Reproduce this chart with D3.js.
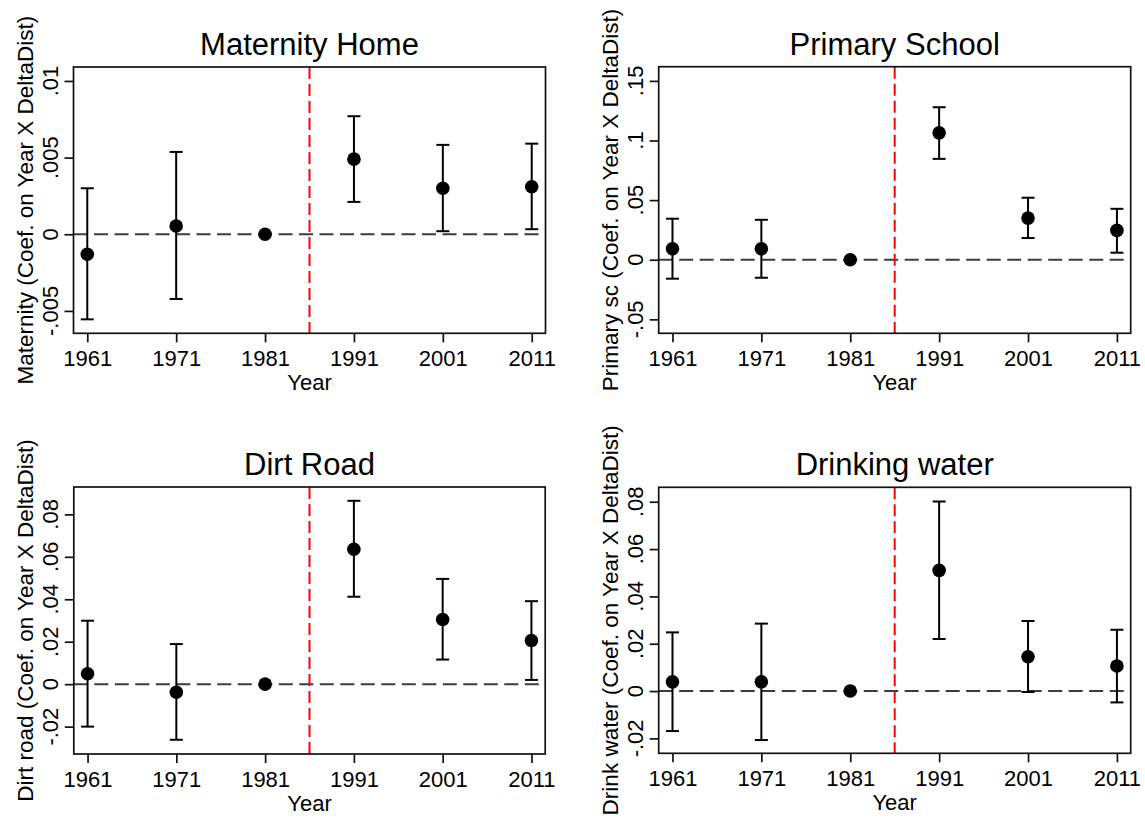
<!DOCTYPE html>
<html>
<head>
<meta charset="utf-8">
<script src="https://cdn.jsdelivr.net/npm/d3@7"></script>
<style>
  html, body { margin: 0; padding: 0; background: #fff; }
  svg { display: block; }
  text { font-family: "Liberation Sans", Arial, Helvetica, sans-serif; fill: #000; }
</style>
</head>
<body>
<svg id="chart" width="1145" height="818"></svg>
<script>
// Census years (x categories) and the reform year marked by the red line
const years = [1961, 1971, 1981, 1991, 2001, 2011];
const reformYear = 1986;

// Maternity home: coefficient and 95% CI bounds (1981 is the omitted base year)
const maternityCoef = [-0.0013, 0.00054, 0, 0.0049, 0.0030, 0.0031];
const maternityLo   = [-0.00555, -0.00422, null, 0.00211, 0.0002, 0.00033];
const maternityHi   = [0.0030, 0.00537, null, 0.0077, 0.00583, 0.00591];
const maternityTicks = [-0.005, 0, 0.005, 0.01];
const maternityTickLabels = ["-.005", "0", ".005", ".01"];

// Primary school
const primaryCoef = [0.0092, 0.0092, 0, 0.1064, 0.0349, 0.0246];
const primaryLo   = [-0.0159, -0.0151, null, 0.0846, 0.0182, 0.0059];
const primaryHi   = [0.0344, 0.0335, null, 0.1279, 0.0520, 0.0427];
const primaryTicks = [-0.05, 0, 0.05, 0.1, 0.15];
const primaryTickLabels = ["-.05", "0", ".05", ".1", ".15"];

// Dirt road
const dirtCoef = [0.0049, -0.0038, 0, 0.0636, 0.0305, 0.0206];
const dirtLo   = [-0.0200, -0.0262, null, 0.0412, 0.0116, 0.0020];
const dirtHi   = [0.0299, 0.0189, null, 0.0864, 0.0496, 0.0391];
const dirtTicks = [-0.02, 0, 0.02, 0.04, 0.06, 0.08];
const dirtTickLabels = ["-.02", "0", ".02", ".04", ".06", ".08"];

// Drinking water
const waterCoef = [0.0039, 0.0039, 0, 0.0510, 0.0145, 0.0106];
const waterLo   = [-0.0169, -0.0207, null, 0.0220, -0.0004, -0.0048];
const waterHi   = [0.0248, 0.0285, null, 0.0801, 0.0296, 0.0259];
const waterTicks = [-0.02, 0, 0.02, 0.04, 0.06, 0.08];
const waterTickLabels = ["-.02", "0", ".02", ".04", ".06", ".08"];

const panels = [
  { title: "Maternity Home", ytitle: "Maternity (Coef. on Year X DeltaDist)",
    coef: maternityCoef, lo: maternityLo, hi: maternityHi,
    ticks: maternityTicks, tickLabels: maternityTickLabels, yDomain: [-0.00646, 0.01091],
    box: { left: 73.5, right: 545.5, top: 67, bottom: 333.3 } },
  { title: "Primary School", ytitle: "Primary sc (Coef. on Year X DeltaDist)",
    coef: primaryCoef, lo: primaryLo, hi: primaryHi,
    ticks: primaryTicks, tickLabels: primaryTickLabels, yDomain: [-0.0617, 0.1619],
    box: { left: 658.7, right: 1130.7, top: 66.7, bottom: 333.3 } },
  { title: "Dirt Road", ytitle: "Dirt road (Coef. on Year X DeltaDist)",
    coef: dirtCoef, lo: dirtLo, hi: dirtHi,
    ticks: dirtTicks, tickLabels: dirtTickLabels, yDomain: [-0.0329, 0.0929],
    box: { left: 73.8, right: 545.2, top: 487, bottom: 754 } },
  { title: "Drinking water", ytitle: "Drink water (Coef. on Year X DeltaDist)",
    coef: waterCoef, lo: waterLo, hi: waterHi,
    ticks: waterTicks, tickLabels: waterTickLabels, yDomain: [-0.0263, 0.0861],
    box: { left: 658.7, right: 1130.7, top: 487.3, bottom: 753.3 } }
];

const svg = d3.select("#chart");
svg.append("rect").attr("width", 1145).attr("height", 818).attr("fill", "#fff");

const xDomain = [1959.45, 2012.55];
const tickFont = "22px";

panels.forEach(p => {
  const b = p.box;
  const x = d3.scaleLinear().domain(xDomain).range([b.left, b.right]);
  const y = d3.scaleLinear().domain(p.yDomain).range([b.bottom, b.top]);
  const g = svg.append("g");

  // zero reference line
  g.append("line")
    .attr("x1", b.left).attr("x2", b.right)
    .attr("y1", y(0)).attr("y2", y(0))
    .attr("stroke", "#3c3c3c").attr("stroke-width", 2)
    .attr("stroke-dasharray", "14,6.5");

  // reform year line
  g.append("line")
    .attr("x1", x(reformYear)).attr("x2", x(reformYear))
    .attr("y1", b.top).attr("y2", b.bottom)
    .attr("stroke", "#ff0000").attr("stroke-width", 2)
    .attr("stroke-dasharray", "12,5");

  // y axis (ticks only; labels drawn rotated below)
  const yAxis = d3.axisLeft(y).tickValues(p.ticks).tickSize(9).tickFormat("");
  const ya = g.append("g").attr("transform", `translate(${b.left},0)`).call(yAxis);
  ya.select(".domain").remove();
  ya.selectAll(".tick line").attr("stroke", "#111").attr("stroke-width", 1.7);

  g.selectAll(".ylab").data(p.ticks).join("text")
    .attr("class", "ylab")
    .attr("transform", (d) => `translate(${b.left - 15.5},${y(d)}) rotate(-90)`)
    .attr("text-anchor", "middle")
    .style("font-size", tickFont)
    .text((d, i) => p.tickLabels[i]);

  // x axis
  const xAxis = d3.axisBottom(x).tickValues(years).tickSize(9).tickFormat(d3.format("d"));
  const xa = g.append("g").attr("transform", `translate(0,${b.bottom})`).call(xAxis);
  xa.select(".domain").remove();
  xa.selectAll(".tick line").attr("stroke", "#111").attr("stroke-width", 1.7);
  xa.selectAll(".tick text")
    .attr("y", 33).attr("dy", null)
    .style("font-size", tickFont)
    .style("font-family", "'Liberation Sans', Arial, Helvetica, sans-serif")
    .attr("fill", "#000");

  // frame around plot region
  g.append("rect")
    .attr("x", b.left).attr("y", b.top)
    .attr("width", b.right - b.left).attr("height", b.bottom - b.top)
    .attr("fill", "none").attr("stroke", "#111").attr("stroke-width", 1.7);

  // confidence intervals with caps
  const rows = years.map((yr, i) => ({ yr, c: p.coef[i], lo: p.lo[i], hi: p.hi[i] }));
  const ci = rows.filter(r => r.lo !== null && r.hi !== null);
  const capHalf = 6.5;
  g.selectAll(".ci").data(ci).join("line")
    .attr("x1", r => x(r.yr)).attr("x2", r => x(r.yr))
    .attr("y1", r => y(r.lo)).attr("y2", r => y(r.hi))
    .attr("stroke", "#000").attr("stroke-width", 2);
  g.selectAll(".capHi").data(ci).join("line")
    .attr("x1", r => x(r.yr) - capHalf).attr("x2", r => x(r.yr) + capHalf)
    .attr("y1", r => y(r.hi)).attr("y2", r => y(r.hi))
    .attr("stroke", "#000").attr("stroke-width", 2);
  g.selectAll(".capLo").data(ci).join("line")
    .attr("x1", r => x(r.yr) - capHalf).attr("x2", r => x(r.yr) + capHalf)
    .attr("y1", r => y(r.lo)).attr("y2", r => y(r.lo))
    .attr("stroke", "#000").attr("stroke-width", 2);

  // point estimates
  g.selectAll(".pt").data(rows).join("circle")
    .attr("cx", r => x(r.yr)).attr("cy", r => y(r.c))
    .attr("r", 6.8).attr("fill", "#000");

  // titles
  g.append("text")
    .attr("x", (b.left + b.right) / 2).attr("y", b.top - 12)
    .attr("text-anchor", "middle")
    .style("font-size", "31px")
    .text(p.title);

  g.append("text")
    .attr("x", (b.left + b.right) / 2).attr("y", b.bottom + 57)
    .attr("text-anchor", "middle")
    .style("font-size", tickFont)
    .text("Year");

  g.append("text")
    .attr("transform", `translate(${b.left - 40.5},${(b.top + b.bottom) / 2}) rotate(-90)`)
    .attr("text-anchor", "middle")
    .style("font-size", "22.5px")
    .text(p.ytitle);
});
</script>
</body>
</html>
